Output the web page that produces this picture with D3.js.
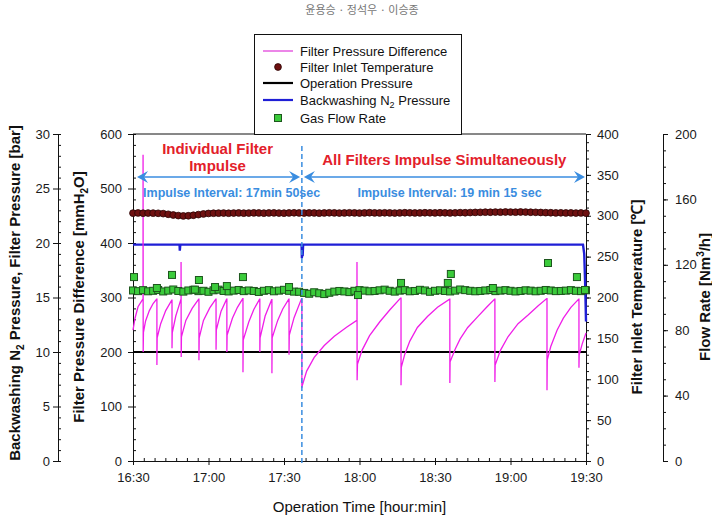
<!DOCTYPE html>
<html>
<head>
<meta charset="utf-8">
<script src="https://cdn.jsdelivr.net/npm/d3@7"></script>
<style>
body{margin:0;background:#fff}
svg{display:block;font-family:"Liberation Sans",Arial,sans-serif}
</style>
</head>
<body>
<svg id="chart" width="712" height="517"></svg>
<script>
// minutes after 16:30
var timeLabels = ["16:30","17:00","17:30","18:00","18:30","19:00","19:30"]

var opTime = [0, 180]
var opPress = [10, 10]

var n2Time = [0, 18.5, 18.6, 18.8, 19.0, 67.0, 67.1, 67.2, 67.4, 67.6, 178.8, 179.3, 179.7, 180]
var n2Press = [19.85, 19.85, 19.3, 19.85, 19.85, 19.85, 18.6, 19.8, 18.8, 19.85, 19.85, 19.0, 16.0, 12.8]

// filter pressure difference [mmH2O], [min, value]
var pressDiff = [
	[0,240],[0.8,262],[2,283],[3.9,297],
	[4.0,297],[4.0,562],[4.05,200],[4.15,236],[5,257],[6.5,276],[8,289],[9.4,297],
	[9.5,297],[9.5,176],[9.6,226],[11,252],[13,276],[15.4,295],
	[15.5,295],[15.5,207],[15.6,235],[17,266],[19,296],
	[19.1,296],[19.1,365],[19.15,191],[19.25,228],[21,258],[23.5,280],[26.1,297],
	[26.2,297],[26.2,185],[26.3,226],[28,258],[30.5,281],[32.9,297],
	[33.0,297],[33.0,204],[33.1,240],[35,275],[37.2,297],
	[37.3,297],[37.3,200],[37.4,231],[39.5,262],[41.5,282],[43.6,298],
	[43.7,298],[43.7,163],[43.8,222],[46,255],[48,278],[50.3,297],
	[50.4,297],[50.4,200],[50.5,226],[52.5,266],[55.1,296],
	[55.2,296],[55.2,161],[55.3,226],[57.5,258],[59.5,279],[61.9,297],
	[62.0,297],[62.0,195],[62.1,231],[64,263],[66.9,297],
	[67.1,297],[67.1,134],[67.3,139],[69,165],[72,190],[76,212],[80,229],[85,246],[88.9,258],
	[89.0,258],[89.0,365],[89.05,148],[89.2,178],[91,203],[94,230],[98,255],[102,277],[106.3,299],
	[106.5,299],[106.5,139],[106.6,172],[108,196],[110,220],[113,245],[117,265],[121,282],[125.8,297],
	[125.9,297],[125.9,143],[126,182],[128,205],[130,224],[133,245],[137,265],[140.5,282],[143.7,297],
	[143.8,297],[143.8,145],[143.9,176],[146,203],[149,228],[153,252],[157,268],[161,285],[164.4,298],
	[164.5,298],[164.5,130],[164.6,185],[166,210],[168.5,240],[171,262],[174,282],[177.1,297],
	[177.2,297],[177.2,171],[177.3,195],[178.5,215],[180,235]
]

// filter inlet temperature [C], one reading every 2 min
var tempInlet = [
	303.2,303.4,303.1,303.3,303.2,303.0,302.6,301.8,300.9,300.2,
	299.8,300.0,300.6,301.4,302.2,302.8,303.1,303.2,303.3,303.1,
	303.3,303.4,303.2,303.3,303.5,303.4,303.2,303.4,303.5,303.3,
	303.2,303.4,303.6,303.4,303.3,303.5,303.4,303.2,303.4,303.6,
	303.5,303.3,303.4,303.6,303.5,303.3,303.5,303.7,303.5,303.4,
	303.6,303.5,303.3,303.5,303.7,303.6,303.4,303.5,303.7,303.6,
	303.5,303.7,303.6,303.4,303.6,303.8,303.7,303.9,304.1,304.2,
	304.4,304.3,304.5,304.4,304.6,304.5,304.4,304.6,304.5,304.3,
	304.2,304.0,303.8,303.7,303.5,303.6,303.4,303.5,303.3,303.4,
	303.2
]

// gas flow rate [Nm3/h], one reading every 2 min
var flowBand = [
	104.3,103.9,104.5,103.8,104.1,104.6,103.7,104.2,104.9,104.0,
	103.6,104.3,104.7,103.9,104.1,103.5,104.4,104.8,104.0,103.7,
	104.2,104.6,103.9,104.3,104.0,103.4,104.1,104.5,103.8,104.2,
	104.7,104.1,103.6,103.5,102.8,102.3,103.2,102.6,102.1,102.9,
	103.6,104.0,103.7,103.3,104.1,104.5,104.2,103.8,104.0,104.4,
	104.8,104.1,103.6,104.2,104.5,103.8,104.0,104.7,104.3,103.5,
	104.1,104.4,104.0,103.7,104.2,104.9,104.5,104.1,103.8,104.0,
	104.3,104.6,103.9,104.2,104.5,104.1,103.7,104.0,104.4,104.2,
	103.8,104.1,104.6,104.3,103.9,104.0,104.2,104.5,104.1,103.9,
	104.4
]
var flowOutTime = [0.4, 9.5, 15.5, 24.6, 26.2, 32.6, 37.3, 43.7, 62.0, 89.4, 106.5, 125.1, 126.3, 143.0, 164.9, 176.4, 179.6]
var flowOutRate = [112.5, 105.8, 113.8, 104.8, 110.7, 106.4, 107.0, 112.5, 106.4, 101.5, 108.9, 108.9, 114.4, 105.8, 121.1, 112.5, 104.6]

var pulseSplit = 67.1

var chart = {}
chart.svg = d3.select("#chart")
chart.box = {left:133, right:586, top:134, bottom:461}
chart.font = "'Liberation Sans',Arial,sans-serif"

chart.x = d3.scaleLinear().domain([0,180]).range([chart.box.left, chart.box.right])
chart.yBar = d3.scaleLinear().domain([0,30]).range([chart.box.bottom, chart.box.top])
chart.yMm = d3.scaleLinear().domain([0,600]).range([chart.box.bottom, chart.box.top])
chart.yTemp = d3.scaleLinear().domain([0,400]).range([chart.box.bottom, chart.box.top])
chart.yFlow = d3.scaleLinear().domain([0,200]).range([chart.box.bottom, chart.box.top])

chart.axisPair = function(pos, maker, scale, major, minor, fmt, majorSize, minorSize, pad) {
	var g = chart.svg.append("g").attr("transform", pos)
	g.append("g")
		.call(maker(scale).tickValues(minor).tickSize(minorSize).tickSizeOuter(0).tickFormat(""))
	g.append("g")
		.call(maker(scale).tickValues(major).tickSize(majorSize).tickSizeOuter(0).tickPadding(pad).tickFormat(fmt))
	g.selectAll("text")
		.style("font-size","13px")
		.style("font-family",chart.font)
		.attr("fill","#1a1a1a")
	g.selectAll("line,path").attr("stroke","#111")
	return g
}

chart.drawAxes = function() {
	var b = chart.box
	chart.axisPair("translate(58,0)", d3.axisLeft, chart.yBar,
		d3.range(0,31,5), d3.range(0,31,1), d3.format("d"), 5, -3, 3)
	chart.axisPair("translate("+b.left+",0)", d3.axisLeft, chart.yMm,
		d3.range(0,601,100), d3.range(0,601,20), d3.format("d"), 5, -3, 6)
	chart.axisPair("translate("+b.right+",0)", d3.axisRight, chart.yTemp,
		d3.range(0,401,50), d3.range(0,401,10), d3.format("d"), 5, 3, 6)
	chart.axisPair("translate(663,0)", d3.axisRight, chart.yFlow,
		d3.range(0,201,40), d3.range(0,201,10), d3.format("d"), 5, 3, 7)
	chart.axisPair("translate(0,"+b.bottom+")", d3.axisBottom, chart.x,
		d3.range(0,181,30), d3.range(0,180,30/7), function(d,i){ return timeLabels[i] }, 4, -3, 8)

	chart.svg.append("line")
		.attr("x1",b.left).attr("x2",b.right)
		.attr("y1",b.top).attr("y2",b.top)
		.attr("stroke","#111")

	var titles = chart.svg.append("g")
		.attr("font-weight","bold")
		.attr("font-size","15px")
		.attr("text-anchor","middle")
		.attr("fill","#111")

	var t1 = titles.append("text").attr("transform","translate(20,293) rotate(-90)")
	t1.append("tspan").text("Backwashing N")
	t1.append("tspan").attr("font-size","10px").attr("dy",4).text("2")
	t1.append("tspan").attr("dy",-4).text(" Pressure, Filter Pressure [bar]")

	var t2 = titles.append("text").attr("transform","translate(84,297) rotate(-90)")
	t2.append("tspan").text("Filter Pressure Difference [mmH")
	t2.append("tspan").attr("font-size","10px").attr("dy",4).text("2")
	t2.append("tspan").attr("dy",-4).text("O]")

	titles.append("text").attr("transform","translate(642,297) rotate(-90)")
		.text("Filter Inlet Temperature [\u2103]")

	var t4 = titles.append("text").attr("transform","translate(710,297) rotate(-90)")
	t4.append("tspan").text("Flow Rate [Nm")
	t4.append("tspan").attr("font-size","10px").attr("dy",-6).text("3")
	t4.append("tspan").attr("dy",6).text("/h]")

	chart.svg.append("text")
		.attr("x",(b.left+b.right)/2).attr("y",512)
		.attr("text-anchor","middle")
		.attr("font-size","15px")
		.attr("fill","#111")
		.text("Operation Time [hour:min]")

	chart.svg.append("text")
		.attr("x",362).attr("y",14)
		.attr("text-anchor","middle")
		.attr("font-size","11px")
		.attr("font-family","'Noto Sans CJK KR',sans-serif")
		.attr("fill","#777")
		.text("윤용승 · 정석우 · 이승종")
}

chart.drawSeries = function() {
	var x = chart.x
	var plot = chart.svg.append("g")

	plot.append("path")
		.datum(d3.zip(opTime, opPress))
		.attr("fill","none").attr("stroke","#000").attr("stroke-width",2.2)
		.attr("d", d3.line().x(function(d){ return x(d[0]) }).y(function(d){ return chart.yBar(d[1]) }))

	plot.append("path")
		.datum(d3.zip(n2Time, n2Press))
		.attr("fill","none").attr("stroke","#1f1fd6").attr("stroke-width",2.4)
		.attr("d", d3.line().x(function(d){ return x(d[0]) }).y(function(d){ return chart.yBar(d[1]) }))

	plot.append("path")
		.datum(pressDiff)
		.attr("fill","none").attr("stroke","#f01ee8").attr("stroke-width",1.3)
		.attr("d", d3.line().x(function(d){ return x(d[0]) }).y(function(d){ return chart.yMm(d[1]) }))

	plot.append("g")
		.selectAll("circle")
		.data(tempInlet)
		.enter()
		.append("circle")
		.attr("cx",function(d,i){ return x(i*2) })
		.attr("cy",function(d){ return chart.yTemp(d) })
		.attr("r",3.4)
		.attr("fill","#6e1010")
		.attr("stroke","#2a0404")
		.attr("stroke-width",0.8)

	var flow = flowBand.map(function(d,i){ return [i*2, d] })
		.concat(d3.zip(flowOutTime, flowOutRate))
	plot.append("g")
		.selectAll("rect")
		.data(flow)
		.enter()
		.append("rect")
		.attr("x",function(d){ return x(d[0]) - 3.5 })
		.attr("y",function(d){ return chart.yFlow(d[1]) - 3.5 })
		.attr("width",7).attr("height",7)
		.attr("fill","#3bcb3b")
		.attr("stroke","#1d561d")
		.attr("stroke-width",1)
}

chart.drawNotes = function() {
	var x = chart.x, y = chart.yMm
	var blue = "#3a8de0"
	var g = chart.svg.append("g")

	g.append("line")
		.attr("x1",x(pulseSplit)).attr("x2",x(pulseSplit))
		.attr("y1",y(578)).attr("y2",y(-6))
		.attr("stroke",blue).attr("stroke-width",1.5)
		.attr("stroke-dasharray","5,3")

	var spans = [[1.6, 66.4], [67.9, 179.6]]
	var ay = y(521)
	spans.forEach(function(s){
		var x0 = x(s[0]), x1 = x(s[1])
		g.append("line").attr("x1",x0+4).attr("x2",x1-4).attr("y1",ay).attr("y2",ay)
			.attr("stroke",blue).attr("stroke-width",1.6)
		g.append("path").attr("fill",blue)
			.attr("d","M"+x0+","+ay+"l11,-6l-4,6l4,6z")
		g.append("path").attr("fill",blue)
			.attr("d","M"+x1+","+ay+"l-11,-6l4,6l-4,6z")
	})

	var red = g.append("g")
		.attr("fill","#e3202a").attr("font-weight","bold")
		.attr("font-size","15px").attr("text-anchor","middle")
	red.append("text").attr("x",x(33.6)).attr("y",y(563)).text("Individual Filter")
	red.append("text").attr("x",x(33.6)).attr("y",y(532)).text("Impulse")
	red.append("text").attr("x",x(123.7)).attr("y",y(543)).text("All Filters Impulse Simultaneously")

	var note = g.append("g")
		.attr("fill",blue).attr("font-weight","bold").attr("font-size","12.5px")
	note.append("text").attr("x",x(4)).attr("y",y(485)).text("Impulse Interval: 17min 50sec")
	note.append("text").attr("x",x(125.8)).attr("y",y(485)).attr("text-anchor","middle")
		.text("Impulse Interval: 19 min 15 sec")
}

chart.drawLegend = function() {
	var g = chart.svg.append("g")
	g.append("rect")
		.attr("x",254.5).attr("y",34.5).attr("width",207).attr("height",100)
		.attr("fill","#fff").attr("stroke","#111")

	var items = ["Filter Pressure Difference","Filter Inlet Temperature","Operation Pressure","Backwashing N","Gas Flow Rate"]
	var rows = [51, 67, 83, 100, 118]
	items.forEach(function(name, i){
		var cy = rows[i]
		if (i == 0 || i == 2 || i == 3) {
			g.append("line").attr("x1",263).attr("x2",293).attr("y1",cy).attr("y2",cy)
				.attr("stroke",["#e65ee0",null,"#000","#1f1fd6"][i])
				.attr("stroke-width",i == 0 ? 1.5 : 2.2)
		} else if (i == 1) {
			g.append("circle").attr("cx",278).attr("cy",cy).attr("r",3.4)
				.attr("fill","#6e1010").attr("stroke","#2a0404").attr("stroke-width",0.8)
		} else {
			g.append("rect").attr("x",274.5).attr("y",cy-3.5).attr("width",7).attr("height",7)
				.attr("fill","#3bcb3b").attr("stroke","#1d561d")
		}
		var t = g.append("text").attr("x",300).attr("y",cy+4.5)
			.attr("font-size","13px").attr("fill","#111").text(name)
		if (i == 3) {
			t.append("tspan").attr("font-size","9px").attr("dy",3).text("2")
			t.append("tspan").attr("dy",-3).text(" Pressure")
		}
	})
}

chart.drawAxes()
chart.drawSeries()
chart.drawNotes()
chart.drawLegend()
</script>
</body>
</html>
